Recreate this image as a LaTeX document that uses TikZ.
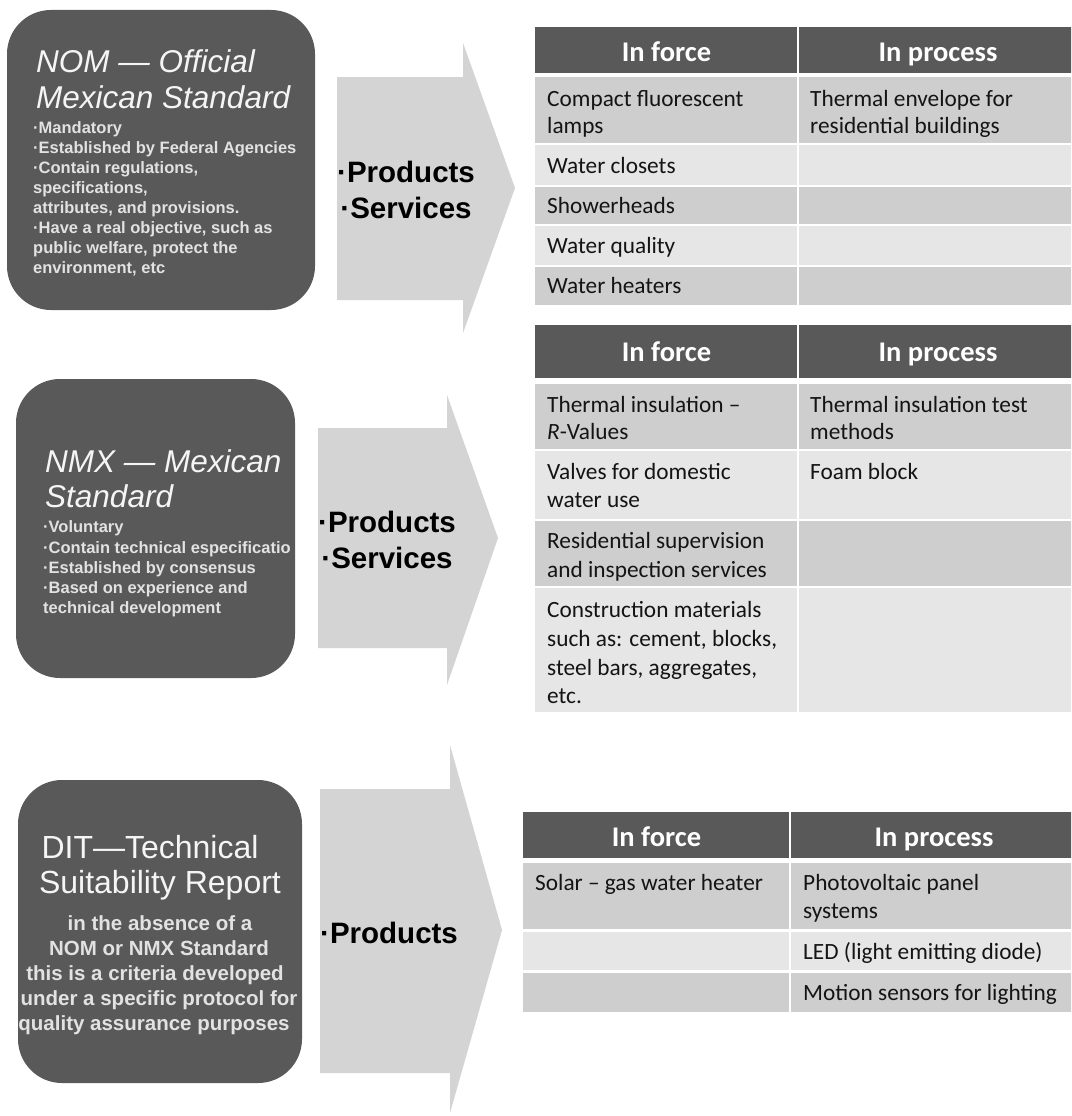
\documentclass[tikz,border=0pt]{standalone}
\usepackage{fontspec}
\newfontfamily\arialf{Liberation Sans}
\newfontfamily\calf{Carlito}
\definecolor{boxgray}{RGB}{89,89,89}
\definecolor{arrowgray}{RGB}{212,212,212}
\definecolor{hdrgray}{RGB}{89,89,89}
\definecolor{rowdark}{RGB}{206,206,206}
\definecolor{rowlight}{RGB}{230,230,230}
\definecolor{titlewhite}{RGB}{245,245,245}
\definecolor{bullettext}{RGB}{226,226,226}
\definecolor{celltext}{RGB}{20,20,20}
\begin{document}
\begin{tikzpicture}[x=1pt,y=-1pt,
  darkbox/.style={fill=boxgray, rounded corners=44pt},
  arrowshape/.style={fill=arrowgray},
  hdrcell/.style={fill=hdrgray},
  darkrow/.style={fill=rowdark},
  lightrow/.style={fill=rowlight},
  sepline/.style={draw=white, line width=2.5pt},
  ttl/.style={anchor=base west, inner sep=0pt, text=titlewhite, font=\arialf\itshape\fontsize{31.5}{36}\selectfont},
  blt/.style={anchor=base west, inner sep=0pt, text=bullettext, font=\arialf\bfseries\fontsize{16.5}{20}\selectfont},
  dittl/.style={anchor=base, inner sep=0pt, text=titlewhite, font=\arialf\fontsize{32}{36}\selectfont},
  ditbody/.style={anchor=base, inner sep=0pt, text=bullettext, font=\arialf\bfseries\fontsize{20.5}{25}\selectfont},
  prod/.style={anchor=base west, inner sep=0pt, text=black, font=\arialf\bfseries\fontsize{29.5}{36}\selectfont},
  prodc/.style={anchor=base, inner sep=0pt, text=black, font=\arialf\bfseries\fontsize{29.5}{36}\selectfont},
  hdrtxt/.style={anchor=base, inner sep=0pt, text=white, font=\calf\bfseries\fontsize{28.5}{34}\selectfont},
  celltxt/.style={anchor=base west, inner sep=0pt, text=celltext, font=\calf\fontsize{23.3}{28}\selectfont}
]
\clip (0,0) rectangle (1071,1116);
\fill[white] (0,0) rectangle (1071,1116);

% ---------------- Section 1: NOM ----------------
\fill[darkbox] (7,10) rectangle (315,310);
\node[ttl] (nomt1) at (36,73) {NOM — Official};
\node[ttl] (nomt2) at (36,108) {Mexican Standard};
\node[blt] (nomb1) at (33,133) {·Mandatory};
\node[blt] (nomb2) at (33,153) {·Established by Federal Agencies};
\node[blt] (nomb3) at (33,173) {·Contain regulations,};
\node[blt] (nomb4) at (33,193) {specifications,};
\node[blt] (nomb5) at (33,213) {attributes, and provisions.};
\node[blt] (nomb6) at (33,233) {·Have a real objective, such as};
\node[blt] (nomb7) at (33,253) {public welfare, protect the};
\node[blt] (nomb8) at (33,273) {environment, etc};

\fill[arrowshape] (337,77) -- (463,77) -- (463,43) -- (515,188) -- (463,333) -- (463,300) -- (337,300) -- cycle;
\node[prod] (p1) at (337,182) {·Products};
\node[prodc] (s1) at ([yshift=-36pt]p1.base) {·Services};

% table 1
\fill[hdrcell] (535,27) rectangle (1078,73);
\fill[darkrow] (535,77) rectangle (1078,144);
\fill[lightrow] (535,144) rectangle (1078,186);
\fill[darkrow] (535,186) rectangle (1078,225);
\fill[lightrow] (535,225) rectangle (1078,266);
\fill[darkrow] (535,266) rectangle (1078,305);
\draw[sepline] (535,144) -- (1078,144);
\draw[sepline] (535,186) -- (1078,186);
\draw[sepline] (535,225) -- (1078,225);
\draw[sepline] (535,266) -- (1078,266);
\draw[sepline] (798,27) -- (798,305);
\node[hdrtxt] (h1a) at (666.5,62) {In force};
\node[hdrtxt] (h1b) at (938,62) {In process};
\node[celltxt] (t1r1a) at (547,106) {Compact fluorescent};
\node[celltxt] (t1r1b) at (547,133) {lamps};
\node[celltxt] (t1r1c) at (810,106) {Thermal envelope for};
\node[celltxt] (t1r1d) at (810,133) {residential buildings};
\node[celltxt] (t1r2) at (547,173) {Water closets};
\node[celltxt] (t1r3) at (547,213) {Showerheads};
\node[celltxt] (t1r4) at (547,253) {Water quality};
\node[celltxt] (t1r5) at (547,293) {Water heaters};

% ---------------- Section 2: NMX ----------------
\fill[darkbox] (16,379) rectangle (295,678);
\node[ttl] (nmxt1) at (45,472) {NMX — Mexican};
\node[ttl] (nmxt2) at (45,507) {Standard};
\node[blt] (nmxb1) at (43,532) {·Voluntary};
\node[blt] (nmxb2) at (43,553) {·Contain technical especificatio};
\node[blt] (nmxb3) at (43,573) {·Established by consensus};
\node[blt] (nmxb4) at (43,593) {·Based on experience and};
\node[blt] (nmxb5) at (43,613) {technical development};

\fill[arrowshape] (318,428) -- (447,428) -- (447,395) -- (498,538) -- (447,685) -- (447,648) -- (318,648) -- cycle;
\node[prod] (p2) at (318,532) {·Products};
\node[prodc] (s2) at ([yshift=-36pt]p2.base) {·Services};

% table 2
\fill[hdrcell] (535,325) rectangle (1078,378);
\fill[darkrow] (535,384) rectangle (1078,450);
\fill[lightrow] (535,450) rectangle (1078,520);
\fill[darkrow] (535,520) rectangle (1078,587);
\fill[lightrow] (535,587) rectangle (1078,712);
\draw[sepline] (535,450) -- (1078,450);
\draw[sepline] (535,520) -- (1078,520);
\draw[sepline] (535,587) -- (1078,587);
\draw[sepline] (798,325) -- (798,712);
\node[hdrtxt] (h2a) at (666.5,361) {In force};
\node[hdrtxt] (h2b) at (938,361) {In process};
\node[celltxt] (t2r1a) at (547,412) {Thermal insulation –};
\node[celltxt] (t2r1b) at (547,439) {\textit{R}-Values};
\node[celltxt] (t2r1c) at (810,412) {Thermal insulation test};
\node[celltxt] (t2r1d) at (810,439) {methods};
\node[celltxt] (t2r2a) at (547,479) {Valves for domestic};
\node[celltxt] (t2r2b) at (547,507) {water use};
\node[celltxt] (t2r2c) at (810,479) {Foam block};
\node[celltxt] (t2r3a) at (547,548) {Residential supervision};
\node[celltxt] (t2r3b) at (547,577) {and inspection services};
\node[celltxt] (t2r4a) at (547,617) {Construction materials};
\node[celltxt] (t2r4b) at (547,646) {such as: cement, blocks,};
\node[celltxt] (t2r4c) at (547,675) {steel bars, aggregates,};
\node[celltxt] (t2r4d) at (547,703) {etc.};

% ---------------- Section 3: DIT ----------------
\fill[darkbox] (18,780) rectangle (302,1083);
\node[dittl] (ditt1) at (150,858) {DIT—Technical};
\node[dittl] (ditt2) at (160,893) {Suitability Report};
\node[ditbody] (ditb1) at (160,930) {in the absence of a};
\node[ditbody] (ditb2) at (159,955) {NOM or NMX Standard};
\node[ditbody] (ditb3) at (155,980) {this is a criteria developed};
\node[ditbody] (ditb4) at (159,1005) {under a specific protocol for};
\node[ditbody] (ditb5) at (154,1030) {quality assurance purposes};

\fill[arrowshape] (320,789) -- (450,789) -- (450,745) -- (502,930) -- (450,1113) -- (450,1073) -- (320,1073) -- cycle;
\node[prod] (p3) at (320,943) {·Products};

% table 3
\fill[hdrcell] (523,812) rectangle (1078,858);
\fill[darkrow] (523,863) rectangle (1078,930.5);
\fill[lightrow] (523,930.5) rectangle (1078,971.5);
\fill[darkrow] (523,971.5) rectangle (1078,1012);
\draw[sepline] (523,930.5) -- (1078,930.5);
\draw[sepline] (523,971.5) -- (1078,971.5);
\draw[sepline] (790,812) -- (790,1012);
\node[hdrtxt] (h3a) at (656.5,846) {In force};
\node[hdrtxt] (h3b) at (934,846) {In process};
\node[celltxt] (t3r1a) at (535,890) {Solar – gas water heater};
\node[celltxt] (t3r1b) at (803,890) {Photovoltaic panel};
\node[celltxt] (t3r1c) at (803,918) {systems};
\node[celltxt] (t3r2) at (803,959) {LED (light emitting diode)};
\node[celltxt] (t3r3) at (803,1000) {Motion sensors for lighting};
\end{tikzpicture}
\end{document}
